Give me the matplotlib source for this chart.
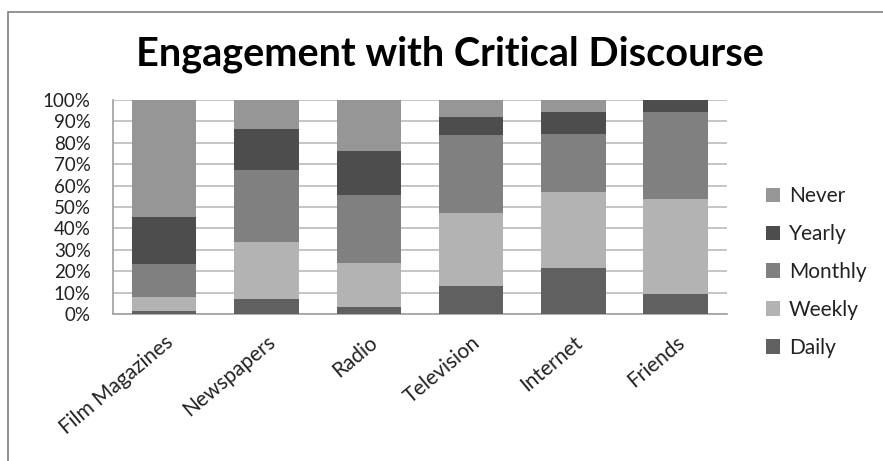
import numpy as np
import matplotlib.pyplot as plt
from matplotlib.patches import Rectangle
from matplotlib.ticker import PercentFormatter

# Data (percent of respondents)
sources = ['Film Magazines', 'Newspapers', 'Radio', 'Television', 'Internet', 'Friends']
daily = [1.5, 7.0, 3.4, 13.0, 21.6, 9.4]
weekly = [6.3, 26.4, 20.4, 34.3, 35.3, 44.2]
monthly = [15.7, 34.0, 31.7, 36.2, 27.0, 40.8]
yearly = [21.9, 19.1, 20.8, 8.5, 10.5, 5.6]
never = [54.6, 13.5, 23.7, 8.0, 5.6, 0.0]

series = [('Daily', daily, '#606060'),
          ('Weekly', weekly, '#b3b3b3'),
          ('Monthly', monthly, '#808080'),
          ('Yearly', yearly, '#4d4d4d'),
          ('Never', never, '#969696')]

plt.rcParams['font.family'] = ['Lato', 'DejaVu Sans']

fig = plt.figure(figsize=(8.83, 4.61), dpi=100)
ax = fig.add_axes([0.128, 0.319, 0.695, 0.464])

# chart frame (clipped at right/bottom like the original)
fig.patches.append(Rectangle((8 / 883, -0.1), 1.1, 1 - 12 / 461 + 0.1,
                             transform=fig.transFigure, fill=False,
                             edgecolor='#808080', linewidth=1.2))

x = np.arange(len(sources))
bottom = np.zeros(len(sources))
handles = []
for name, vals, col in series:
    h = ax.bar(x, vals, bottom=bottom, width=0.63, color=col, label=name, zorder=3)
    handles.append(h)
    bottom += np.array(vals)

ax.set_xlim(-0.5, len(sources) - 0.5)
ax.set_ylim(0, 100)
ax.set_yticks(np.arange(0, 101, 10))
ax.yaxis.set_major_formatter(PercentFormatter(decimals=0))
ax.grid(axis='y', color='#c0c0c0', linewidth=1.3, zorder=0)
for s in ['top', 'right']:
    ax.spines[s].set_visible(False)
for s in ['left', 'bottom']:
    ax.spines[s].set_color('#a0a0a0')
    ax.spines[s].set_linewidth(1.2)
ax.tick_params(axis='y', length=0, labelsize=13.5, pad=16, labelcolor='#222222')
ax.tick_params(axis='x', length=0, labelsize=15, pad=13, labelcolor='#222222')
ax.set_xticks(x)
ax.set_xticklabels(sources, rotation=40, ha='right', rotation_mode='anchor')

ax.legend(handles[::-1], [s[0] for s in series][::-1], loc='center left',
          bbox_to_anchor=(1.05, 0.196), borderaxespad=0, frameon=False, fontsize=15,
          handlelength=0.7, handleheight=0.7, labelspacing=0.86, handletextpad=0.4,
          labelcolor='#222222')

fig.text(0.51, 0.859, 'Engagement with Critical Discourse', ha='center', va='baseline',
         fontsize=28.5, fontweight='bold')

fig.savefig('out.png', dpi=100)
